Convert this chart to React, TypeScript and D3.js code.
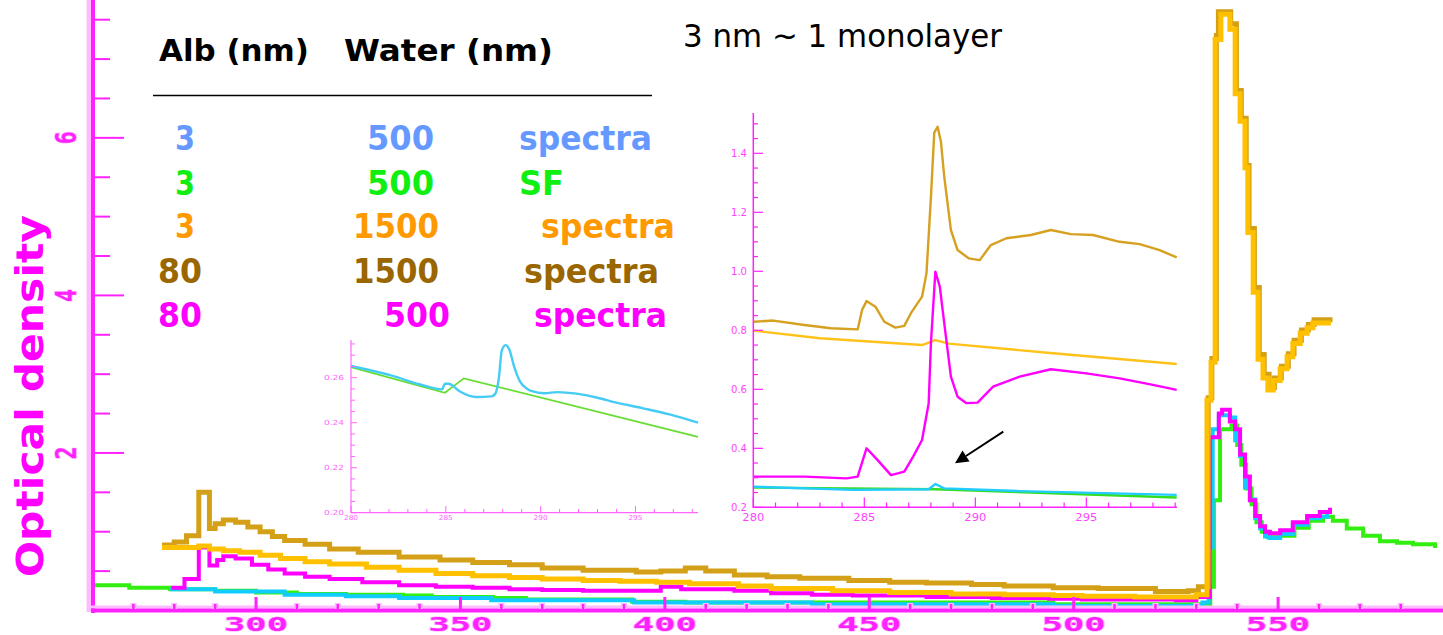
import React from "react";
import * as d3 from "d3";

// ---------------- main chart: photon energy vs optical density ----------------
const mainXMajor = [300, 350, 400, 450, 500, 550];
const mainYMajor = [2, 4, 6];
const mainYLabels = ["2", "4", "6"];

const greenEnergy = [260, 269, 279, 290, 300, 310, 322, 336, 343, 358, 366, 392, 405, 443, 495, 532, 533.4, 534.3, 535.8, 538.6, 540, 541, 542.2, 543.5, 544.7, 546, 547.5, 550.5, 554, 557.5, 561, 563.4, 566.8, 570.8, 574.9, 579.1, 583, 588.4];
const greenOD = [0.32, 0.29, 0.27, 0.25, 0.23, 0.21, 0.2, 0.19, 0.17, 0.16, 0.14, 0.11, 0.1, 0.1, 0.08, 0.08, 0.3, 1.4, 2.3, 2.35, 2.1, 1.85, 1.55, 1.35, 1.12, 1.0, 0.93, 0.95, 1.05, 1.14, 1.19, 1.14, 1.04, 0.95, 0.88, 0.86, 0.84, 0.82];

const cyanEnergy = [279.5, 290, 307, 322, 335, 357.5, 392.5, 436, 495, 531.5, 533, 534, 535.5, 538.2, 539.5, 540.7, 541.9, 543.1, 544.4, 545.6, 546.8, 548, 550.5, 553.6, 557.1, 560.2, 562];
const cyanOD = [0.27, 0.24, 0.2, 0.18, 0.16, 0.13, 0.1, 0.08, 0.06, 0.1, 0.8, 2.3, 2.48, 2.45, 2.16, 1.96, 1.56, 1.41, 1.17, 1.04, 0.94, 0.92, 0.97, 1.09, 1.17, 1.19, 1.2];

const magentaEnergy = [279.8, 282.5, 286, 288.6, 290.5, 292, 295, 299, 303, 307, 312, 318, 326, 335, 344, 353, 362, 370, 380, 389, 399, 404, 417, 426, 436, 446, 464, 480, 494, 502, 525, 530, 533.3, 535.5, 536.3, 538.2, 539.5, 540.7, 541.9, 543.1, 544.4, 545.6, 546.8, 548, 550.5, 553.6, 557.1, 560.2, 562.7];
const magentaOD = [0.29, 0.4, 0.8, 0.57, 0.64, 0.69, 0.66, 0.58, 0.52, 0.47, 0.43, 0.4, 0.36, 0.32, 0.3, 0.29, 0.27, 0.26, 0.25, 0.25, 0.3, 0.27, 0.25, 0.22, 0.2, 0.19, 0.17, 0.16, 0.15, 0.14, 0.13, 0.17, 2.2, 2.5, 2.55, 2.4, 2.3, 1.98, 1.7, 1.4, 1.2, 1.07, 1.0, 0.98, 1.02, 1.12, 1.2, 1.25, 1.28];

const brownEnergy = [277.6, 280, 283, 286, 288.6, 290, 292, 295, 298, 301, 304, 307, 312, 318, 325, 335, 345, 353, 362, 370, 380, 393, 399, 405, 410, 417, 425, 433, 445, 455, 464, 475, 483, 495, 506, 520, 528, 530.5, 532.9, 533.8, 534.9, 535.4, 538.4, 539.8, 541, 542.2, 542.9, 544.2, 545.4, 546.6, 547.8, 549.1, 550.8, 552.5, 553.9, 555.7, 557.4, 558.8, 562.7];
const brownOD = [0.83, 0.87, 0.95, 1.5, 1.04, 1.1, 1.15, 1.12, 1.06, 1.0, 0.94, 0.89, 0.84, 0.78, 0.74, 0.68, 0.64, 0.61, 0.58, 0.54, 0.51, 0.49, 0.5, 0.54, 0.5, 0.45, 0.43, 0.41, 0.38, 0.36, 0.35, 0.33, 0.31, 0.29, 0.28, 0.24, 0.25, 0.3, 2.7, 3.2, 7.3, 7.6, 7.45, 6.6, 6.25, 5.65, 4.85, 4.1, 3.25, 3.0, 2.83, 2.95, 3.1, 3.26, 3.43, 3.56, 3.63, 3.69, 3.69];

const orangeEnergy = [277.6, 283, 286, 288.6, 292, 296, 301, 306, 312, 318, 327, 335, 344, 353, 362, 370, 380, 389, 398, 406, 418, 426, 441, 455, 470, 483, 495, 502, 515, 525, 530, 532.6, 533.6, 534.6, 536.0, 538.2, 539.5, 540.7, 541.9, 542.6, 543.9, 545.1, 546.3, 547.5, 548.8, 550.5, 552.2, 553.6, 555.4, 557.1, 558.5, 562.3];
const orangeOD = [0.8, 0.8, 0.82, 0.78, 0.76, 0.74, 0.7, 0.66, 0.62, 0.59, 0.55, 0.51, 0.47, 0.44, 0.42, 0.4, 0.38, 0.37, 0.36, 0.34, 0.31, 0.28, 0.25, 0.23, 0.21, 0.2, 0.19, 0.18, 0.17, 0.17, 0.2, 2.67, 3.15, 7.25, 7.57, 7.38, 6.56, 6.21, 5.62, 4.8, 4.04, 3.19, 2.95, 2.8, 2.92, 3.07, 3.22, 3.39, 3.52, 3.59, 3.65, 3.65];

// ---------------- small inset (3 nm / 500 nm: spectra vs SF) ----------------
const smallXTicks = [280, 285, 290, 295];
const smallXLabels = ["280", "285", "290", "295"];
const smallYTicks = [0.2, 0.22, 0.24, 0.26];
const smallYLabels = ["0.20", "0.22", "0.24", "0.26"];

const smallCyanEnergy = [280, 282.2, 283.6, 284.8, 284.95, 285.15, 285.7, 286.6, 287.4, 287.6, 287.8, 287.95, 288.15, 288.35, 288.6, 288.9, 289.3, 289.5, 290.2, 290.9, 291.9, 293, 294, 295.4, 296.8, 298.3];
const smallCyanValue = [0.2652, 0.2608, 0.2571, 0.2548, 0.2573, 0.2573, 0.2541, 0.2514, 0.2517, 0.2527, 0.26, 0.272, 0.2745, 0.2725, 0.265, 0.2585, 0.255, 0.2541, 0.2531, 0.2536, 0.2529, 0.2511, 0.2489, 0.2464, 0.2437, 0.24];
const smallGreenEnergy = [280, 284.95, 285.95, 298.3];
const smallGreenValue = [0.2647, 0.2533, 0.2597, 0.2337];

// ---------------- big inset (C K-edge) ----------------
const bigXTicks = [280, 285, 290, 295];
const bigXLabels = ["280", "285", "290", "295"];
const bigYTicks = [0.2, 0.4, 0.6, 0.8, 1.0, 1.2, 1.4];
const bigYLabels = ["0.2", "0.4", "0.6", "0.8", "1.0", "1.2", "1.4"];

const bigBrownEnergy = [280, 280.9, 282.3, 283.5, 284.7, 284.9, 285.1, 285.5, 285.9, 286.4, 286.8, 287.1, 287.6, 287.8, 288.0, 288.15, 288.3, 288.45, 288.6, 288.9, 289.2, 289.7, 290.2, 290.7, 291.4, 292.5, 293.4, 294.3, 295.3, 296.5, 297.4, 298.3, 299.07];
const bigBrownValue = [0.829, 0.833, 0.818, 0.807, 0.803, 0.869, 0.899, 0.88, 0.829, 0.809, 0.815, 0.858, 0.914, 0.993, 1.25, 1.47, 1.49, 1.44, 1.321, 1.14, 1.072, 1.044, 1.038, 1.089, 1.112, 1.123, 1.14, 1.126, 1.123, 1.1, 1.092, 1.072, 1.047];
const bigOrangeEnergy = [280, 283, 287.6, 288.2, 288.8, 293.5, 299.07];
const bigOrangeValue = [0.799, 0.773, 0.75, 0.767, 0.755, 0.722, 0.686];
const bigMagentaEnergy = [280, 282.3, 284.2, 284.7, 285.1, 285.6, 286.2, 286.8, 287.2, 287.6, 287.9, 288.0, 288.2, 288.4, 288.6, 288.9, 289.2, 289.6, 290.1, 290.8, 292.0, 293.4, 295.0, 296.5, 298.0, 299.07];
const bigMagentaValue = [0.304, 0.304, 0.298, 0.304, 0.4, 0.36, 0.309, 0.321, 0.372, 0.428, 0.553, 0.756, 0.999, 0.948, 0.824, 0.643, 0.575, 0.553, 0.555, 0.609, 0.643, 0.668, 0.654, 0.637, 0.615, 0.598];
const bigCyanEnergy = [280, 284.5, 287.9, 288.2, 288.6, 292, 299.07];
const bigCyanValue = [0.27, 0.259, 0.261, 0.279, 0.264, 0.255, 0.242];
const bigGreenEnergy = [280, 288.2, 299.07];
const bigGreenValue = [0.267, 0.261, 0.233];

// ---------------- legend table ----------------
const legendAlb = ["3", "3", "3", "80", "80"];
const legendWater = ["500", "500", "1500", "1500", "500"];
const legendKind = ["spectra", "SF", "spectra", "spectra", "spectra"];
const legendColors = ["#6699ff", "#11ee11", "#ff9900", "#996600", "#ff00ff"];

const PINK = "#ff22ff";
const PALE = "#ffbbff";

type Curve = d3.CurveFactory;
function pathOf(xs: number[], ys: number[], sx: (v: number) => number, sy: (v: number) => number, curve: Curve) {
  const pts = xs.map((v, i) => [sx(v), sy(ys[i])] as [number, number]);
  return d3.line().curve(curve)(pts) || "";
}

export default function App() {
  // main scales
  const x = d3.scaleLinear().domain([260, 588.5]).range([92.5, 1435.5]);
  const y = d3.scaleLinear().domain([0, 7.75]).range([610.5, 0]);
  const xMinor = d3.range(270, 590, 10).filter((v) => v % 50 !== 0);
  const yMinor = d3.range(0.5, 7.6, 0.5).filter((v) => v % 2 !== 0);

  // small inset scales
  const sx = d3.scaleLinear().domain([280, 298.3]).range([351, 698]);
  const sy = d3.scaleLinear().domain([0.2, 0.26]).range([512.7, 377.7]);
  const sxMinor = d3.range(281, 299, 1).filter((v) => v % 5 !== 0);
  const syMinor = d3.range(0.205, 0.276, 0.005).filter((v) => Math.abs(Math.round(v * 100) % 2) === 1 || Math.abs(v * 100 - Math.round(v * 100)) > 0.1);

  // big inset scales
  const bx = d3.scaleLinear().domain([280, 299.07]).range([753.3, 1176.7]);
  const by = d3.scaleLinear().domain([0.2, 1.4]).range([507.3, 153.3]);
  const bxMinor = d3.range(281, 300, 1).filter((v) => v % 5 !== 0);
  const byMinor = d3.range(0.25, 1.53, 0.05).filter((v) => Math.abs(v * 10 - Math.round(v * 10)) > 0.1 || Math.round(v * 10) % 2 === 1);

  const step = d3.curveStepAfter;
  const lin = d3.curveLinear;

  const mainSeries = [
    { xs: greenEnergy, ys: greenOD, color: "#33ee11", w: 4 },
    { xs: cyanEnergy, ys: cyanOD, color: "#11ccff", w: 4 },
    { xs: magentaEnergy, ys: magentaOD, color: "#ff00ff", w: 4 },
    { xs: brownEnergy, ys: brownOD, color: "#d4a017", w: 5 },
    { xs: orangeEnergy, ys: orangeOD, color: "#ffc000", w: 5 },
  ];

  const bigSeries = [
    { xs: bigGreenEnergy, ys: bigGreenValue, color: "#33dd22" },
    { xs: bigCyanEnergy, ys: bigCyanValue, color: "#22ccff" },
    { xs: bigOrangeEnergy, ys: bigOrangeValue, color: "#ffc21a" },
    { xs: bigMagentaEnergy, ys: bigMagentaValue, color: "#ff00ff" },
    { xs: bigBrownEnergy, ys: bigBrownValue, color: "#d6a020" },
  ];

  const rowBase = [150, 195, 238, 283, 327];
  const albPos = [[175, 20], [175, 20], [175, 20], [158, 44], [158, 44]];
  const waterPos = [[367, 67], [367, 67], [353, 86], [353, 86], [384, 66]];
  const kindPos = [[519, 133], [519, 45], [541, 134], [524, 135], [534, 133]];

  const legendFont = "'DejaVu Sans', Verdana, sans-serif";
  const monoFont = "'DejaVu Sans Mono', monospace";

  return (
    <svg width={1443} height={635} style={{ position: "absolute", left: 0, top: 0, display: "block", background: "#fff" }}>
      {/* main curves */}
      <g fill="none" strokeLinejoin="miter" strokeLinecap="square">
        {mainSeries.map((s, i) => (
          <path key={i} d={pathOf(s.xs, s.ys, x, y, step)} stroke={s.color} strokeWidth={s.w} />
        ))}
      </g>

      {/* main axes */}
      <line x1={89} x2={89} y1={0} y2={612} stroke={PALE} strokeWidth={5} />
      <line x1={93} x2={93} y1={0} y2={613} stroke={PINK} strokeWidth={4} />
      <line x1={91} x2={1443} y1={607} y2={607} stroke={PALE} strokeWidth={3} />
      <line x1={91} x2={1443} y1={610.5} y2={610.5} stroke={PINK} strokeWidth={4} />
      {mainYMajor.map((v) => (
        <line key={"ym" + v} x1={95} x2={124} y1={y(v)} y2={y(v)} stroke={PINK} strokeWidth={2} />
      ))}
      {yMinor.map((v) => (
        <line key={"yn" + v} x1={95} x2={110} y1={y(v)} y2={y(v)} stroke={PINK} strokeWidth={2} />
      ))}
      {mainXMajor.map((v) => (
        <line key={"xm" + v} x1={x(v)} x2={x(v)} y1={609} y2={597} stroke={PINK} strokeWidth={3} />
      ))}
      {xMinor.map((v) => (
        <rect key={"xn" + v} x={x(v) - 3} y={603} width={6} height={6} fill={PALE} />
      ))}
      {xMinor.map((v) => (
        <line key={"xn2" + v} x1={x(v)} x2={x(v)} y1={609} y2={604} stroke={PINK} strokeWidth={2.5} />
      ))}
      {mainXMajor.map((v) => (
        <text key={"xl" + v} x={x(v)} y={630.5} textAnchor="middle" fontFamily={monoFont} fontWeight="bold" fontSize={19}
          textLength={64} lengthAdjust="spacingAndGlyphs" fill={PINK} stroke={PALE} strokeWidth={1.2} paintOrder="stroke">{v}</text>
      ))}
      {mainYMajor.map((v, i) => (
        <text key={"yl" + v} transform={`translate(76,${y(v)}) rotate(-90)`} textAnchor="middle" fontFamily={monoFont}
          fontWeight="bold" fontSize={28} textLength={13} lengthAdjust="spacingAndGlyphs" fill={PINK} stroke={PALE}
          strokeWidth={1.5} paintOrder="stroke">{mainYLabels[i]}</text>
      ))}
      <text transform="translate(43,396) rotate(-90)" textAnchor="middle" fontFamily={legendFont} fontWeight="bold"
        fontSize={37} textLength={362} lengthAdjust="spacingAndGlyphs" fill="#ff00ff">Optical density</text>

      {/* small inset */}
      <g>
        <path d={pathOf(smallGreenEnergy, smallGreenValue, sx, sy, lin)} fill="none" stroke="#66dd33" strokeWidth={1.8} />
        <path d={pathOf(smallCyanEnergy, smallCyanValue, sx, sy, d3.curveMonotoneX)} fill="none" stroke="#44ccf5" strokeWidth={2.4} />
        <line x1={351} x2={351} y1={340} y2={513} stroke="#ff66ff" strokeWidth={1.2} />
        <line x1={351} x2={698} y1={512.7} y2={512.7} stroke="#ff66ff" strokeWidth={1.2} />
        {smallYTicks.map((v) => (
          <line key={"sy" + v} x1={351} x2={357} y1={sy(v)} y2={sy(v)} stroke="#ff66ff" strokeWidth={1} />
        ))}
        {syMinor.map((v, i) => (
          <line key={"syn" + i} x1={351} x2={355} y1={sy(v)} y2={sy(v)} stroke="#ff66ff" strokeWidth={1} />
        ))}
        {smallXTicks.map((v) => (
          <line key={"sx" + v} x1={sx(v)} x2={sx(v)} y1={512.7} y2={506} stroke="#ff66ff" strokeWidth={1} />
        ))}
        {sxMinor.map((v) => (
          <line key={"sxn" + v} x1={sx(v)} x2={sx(v)} y1={512.7} y2={509} stroke="#ff66ff" strokeWidth={1} />
        ))}
        {smallXTicks.map((v, i) => (
          <text key={"sxl" + v} x={sx(v)} y={520} textAnchor="middle" fontFamily={legendFont} fontSize={7} textLength={14}
            lengthAdjust="spacingAndGlyphs" fill="#ff66ff">{smallXLabels[i]}</text>
        ))}
        {smallYTicks.map((v, i) => (
          <text key={"syl" + v} x={344} y={sy(v) + 2.5} textAnchor="end" fontFamily={legendFont} fontSize={7} textLength={20}
            lengthAdjust="spacingAndGlyphs" fill="#ff66ff">{smallYLabels[i]}</text>
        ))}
      </g>

      {/* big inset */}
      <g>
        {bigSeries.map((s, i) => (
          <path key={i} d={pathOf(s.xs, s.ys, bx, by, lin)} fill="none" stroke={s.color} strokeWidth={2.4} strokeLinejoin="round" />
        ))}
        <line x1={753.3} x2={753.3} y1={113} y2={508} stroke={PINK} strokeWidth={1.5} />
        <line x1={753.3} x2={1177} y1={507.3} y2={507.3} stroke={PINK} strokeWidth={1.5} />
        {bigYTicks.map((v) => (
          <line key={"by" + v} x1={753.3} x2={763} y1={by(v)} y2={by(v)} stroke={PINK} strokeWidth={1.2} />
        ))}
        {byMinor.map((v, i) => (
          <line key={"byn" + i} x1={753.3} x2={758} y1={by(v)} y2={by(v)} stroke={PINK} strokeWidth={1.2} />
        ))}
        {bigXTicks.map((v) => (
          <line key={"bx" + v} x1={bx(v)} x2={bx(v)} y1={507.3} y2={497.5} stroke={PINK} strokeWidth={1.2} />
        ))}
        {bxMinor.map((v) => (
          <line key={"bxn" + v} x1={bx(v)} x2={bx(v)} y1={507.3} y2={502.5} stroke={PINK} strokeWidth={1.2} />
        ))}
        {bigXTicks.map((v, i) => (
          <text key={"bxl" + v} x={bx(v)} y={521} textAnchor="middle" fontFamily={legendFont} fontSize={11} textLength={22}
            lengthAdjust="spacingAndGlyphs" fill="#ff44ff">{bigXLabels[i]}</text>
        ))}
        {bigYTicks.map((v, i) => (
          <text key={"byl" + v} x={747} y={by(v) + 4} textAnchor="end" fontFamily={legendFont} fontSize={11} textLength={16}
            lengthAdjust="spacingAndGlyphs" fill="#ff44ff">{bigYLabels[i]}</text>
        ))}
        {/* arrow */}
        <line x1={1003.3} x2={966} y1={431.7} y2={456} stroke="#000" strokeWidth={2} />
        <path d="M955,463.3 L962.5,450.5 L969.5,461.5 Z" fill="#000" />
      </g>

      {/* legend table */}
      <text x={159} y={61} fontFamily={legendFont} fontWeight="bold" fontSize={31} textLength={150} lengthAdjust="spacingAndGlyphs">Alb (nm)</text>
      <text x={344} y={61} fontFamily={legendFont} fontWeight="bold" fontSize={31} textLength={209} lengthAdjust="spacingAndGlyphs">Water (nm)</text>
      <line x1={153} x2={652} y1={95.5} y2={95.5} stroke="#000" strokeWidth={1.6} />
      {legendAlb.map((a, i) => (
        <g key={"lg" + i} fill={legendColors[i]} fontFamily={legendFont} fontWeight="bold" fontSize={34}>
          <text x={albPos[i][0]} y={rowBase[i]} textLength={albPos[i][1]} lengthAdjust="spacingAndGlyphs">{a}</text>
          <text x={waterPos[i][0]} y={rowBase[i]} textLength={waterPos[i][1]} lengthAdjust="spacingAndGlyphs">{legendWater[i]}</text>
          <text x={kindPos[i][0]} y={rowBase[i]} textLength={kindPos[i][1]} lengthAdjust="spacingAndGlyphs">{legendKind[i]}</text>
        </g>
      ))}
      <text x={683} y={47} fontFamily={legendFont} fontSize={32} textLength={319} lengthAdjust="spacingAndGlyphs" fill="#000">3 nm ~ 1 monolayer</text>
    </svg>
  );
}
